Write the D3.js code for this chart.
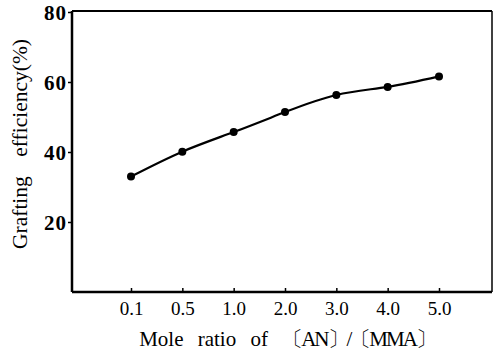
<!DOCTYPE html>
<html>
<head>
<meta charset="utf-8">
<script src="https://cdn.jsdelivr.net/npm/d3@7/dist/d3.min.js"></script>
<style>
  html, body { margin: 0; padding: 0; background: #fff; }
  svg { display: block; }
</style>
</head>
<body>
<svg id="chart" width="495" height="353"></svg>
<script>
// Mole ratio categories and grafting efficiency (%)
const ratios = ["0.1", "0.5", "1.0", "2.0", "3.0", "4.0", "5.0"];
const efficiency = [33.0, 40.1, 45.7, 51.4, 56.3, 58.6, 61.6];
const yTicks = [20, 40, 60, 80];

const serif = "'Liberation Serif', 'DejaVu Serif', 'Times New Roman', serif";
const svg = d3.select("#chart");
const plotLeft = 72, plotRight = 492, plotTop = 11, plotBottom = 292;

const x = d3.scalePoint().domain(ratios).range([plotLeft + 59, plotLeft + 367]);
const y = d3.scaleLinear().domain([0, 80]).range([plotBottom, plotTop + 1]);

// frame
svg.append("line").attr("x1", plotLeft).attr("x2", plotRight).attr("y1", plotTop).attr("y2", plotTop)
  .attr("stroke", "#000").attr("stroke-width", 1.8);
svg.append("line").attr("x1", plotRight).attr("x2", plotRight).attr("y1", plotTop).attr("y2", plotBottom)
  .attr("stroke", "#000").attr("stroke-width", 1.5);

// y axis
const yAxis = svg.append("g").attr("transform", `translate(${plotLeft},0)`)
  .call(d3.axisLeft(y).tickValues(yTicks).tickSize(4).tickPadding(1).tickFormat(d3.format("d")));
yAxis.attr("font-family", serif);
yAxis.select(".domain").attr("d", `M0,${plotTop}V${plotBottom}`).attr("stroke-width", 2.5);
yAxis.selectAll(".tick line").attr("stroke-width", 1.5);
yAxis.selectAll(".tick text")
  .attr("font-family", serif).attr("font-size", 21).attr("font-weight", "bold")
  .attr("letter-spacing", 1).attr("dy", "0.34em");

// x axis (ticks point into the plot)
const xAxis = svg.append("g").attr("transform", `translate(0,${plotBottom})`)
  .call(d3.axisBottom(x).tickSize(-4).tickPadding(10));
xAxis.attr("font-family", serif);
xAxis.select(".domain").attr("d", `M${plotLeft},0H${plotRight}`).attr("stroke-width", 2.5);
xAxis.selectAll(".tick line").attr("stroke-width", 1.5);
xAxis.selectAll(".tick text").attr("font-family", serif).attr("font-size", 19);

// smooth curve through the measurements
const line = d3.line()
  .x((d, i) => x(ratios[i]))
  .y(d => y(d))
  .curve(d3.curveNatural);

svg.append("path").datum(efficiency)
  .attr("d", line).attr("fill", "none").attr("stroke", "#000").attr("stroke-width", 2.2);

svg.selectAll("circle.pt").data(efficiency).join("circle")
  .attr("class", "pt")
  .attr("cx", (d, i) => x(ratios[i]))
  .attr("cy", d => y(d))
  .attr("r", 4)
  .attr("fill", "#000");

// axis titles
const xTitle = svg.append("text")
  .attr("x", 287).attr("y", 346)
  .attr("text-anchor", "middle")
  .attr("font-family", serif).attr("font-size", 21);
xTitle.append("tspan").attr("word-spacing", 9).text("Mole ratio of ");
xTitle.append("tspan").attr("letter-spacing", -2).text("〔AN〕/〔MMA〕");

svg.append("text")
  .attr("transform", "translate(27,144) rotate(-90)")
  .attr("text-anchor", "middle")
  .attr("font-family", serif).attr("font-size", 21.5).attr("word-spacing", 14)
  .text("Grafting efficiency(%)");
</script>
</body>
</html>
